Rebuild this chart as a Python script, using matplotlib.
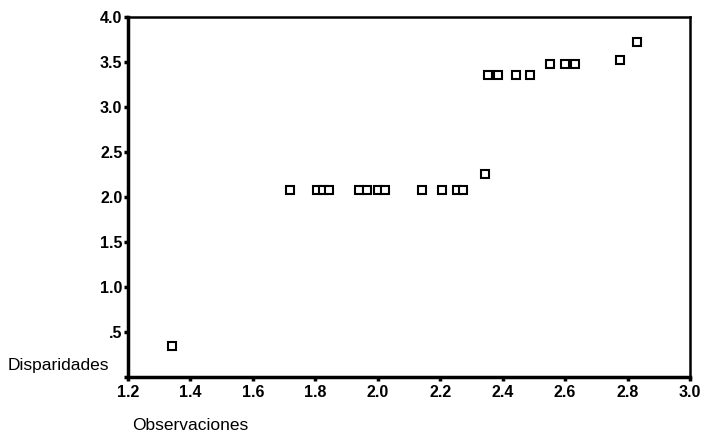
import matplotlib
matplotlib.use("Agg")
import matplotlib.pyplot as plt

observaciones = [1.34, 1.72, 1.805, 1.823, 1.843, 1.94, 1.965, 2.0, 2.022,
                 2.143, 2.207, 2.255, 2.273, 2.345,
                 2.352, 2.385, 2.442, 2.487, 2.552, 2.60, 2.632, 2.777, 2.83]
disparidades = [0.34, 2.08, 2.08, 2.08, 2.08, 2.08, 2.08, 2.08, 2.08,
                2.08, 2.08, 2.08, 2.08, 2.25,
                3.35, 3.35, 3.35, 3.35, 3.48, 3.48, 3.48, 3.52, 3.72]

xticks = [1.2, 1.4, 1.6, 1.8, 2.0, 2.2, 2.4, 2.6, 2.8, 3.0]
xtick_labels = ["1.2", "1.4", "1.6", "1.8", "2.0", "2.2", "2.4", "2.6", "2.8", "3.0"]
yticks = [0.0, 0.5, 1.0, 1.5, 2.0, 2.5, 3.0, 3.5, 4.0]
ytick_labels = ["", ".5", "1.0", "1.5", "2.0", "2.5", "3.0", "3.5", "4.0"]

plt.rcParams['font.family'] = ['Liberation Sans', 'DejaVu Sans']

fig = plt.figure(figsize=(7.05, 4.4), dpi=100)
W, H = 705, 440
left, right, top, bottom = 128, 690, 17, 377
ax = fig.add_axes([left / W, 1 - bottom / H, (right - left) / W, (bottom - top) / H])

ax.plot(observaciones, disparidades, linestyle='none', marker='s', markersize=5.5,
        markerfacecolor='white', markeredgecolor='black', markeredgewidth=1.5)

ax.set_xlim(1.2, 3.0)
ax.set_ylim(0, 4.0)
ax.set_xticks(xticks)
ax.set_xticklabels(xtick_labels, fontsize=11.5, fontweight='bold')
ax.set_yticks(yticks)
ax.set_yticklabels(ytick_labels, fontsize=11.5, fontweight='bold')
ax.tick_params(axis='both', direction='out', length=3, width=2.5, pad=1, colors='black')
ax.tick_params(axis='x', pad=3)

ax.spines['left'].set_linewidth(2.5)
ax.spines['bottom'].set_linewidth(2.5)
ax.spines['top'].set_linewidth(1.8)
ax.spines['right'].set_linewidth(1.8)

fig.text(8 / W, 1 - 365 / H, "Disparidades", fontsize=12.5, ha='left', va='center')
fig.text(132 / W, 1 - 425 / H, "Observaciones", fontsize=12.5, ha='left', va='center')

fig.savefig("out.png", dpi=100, facecolor='white')
